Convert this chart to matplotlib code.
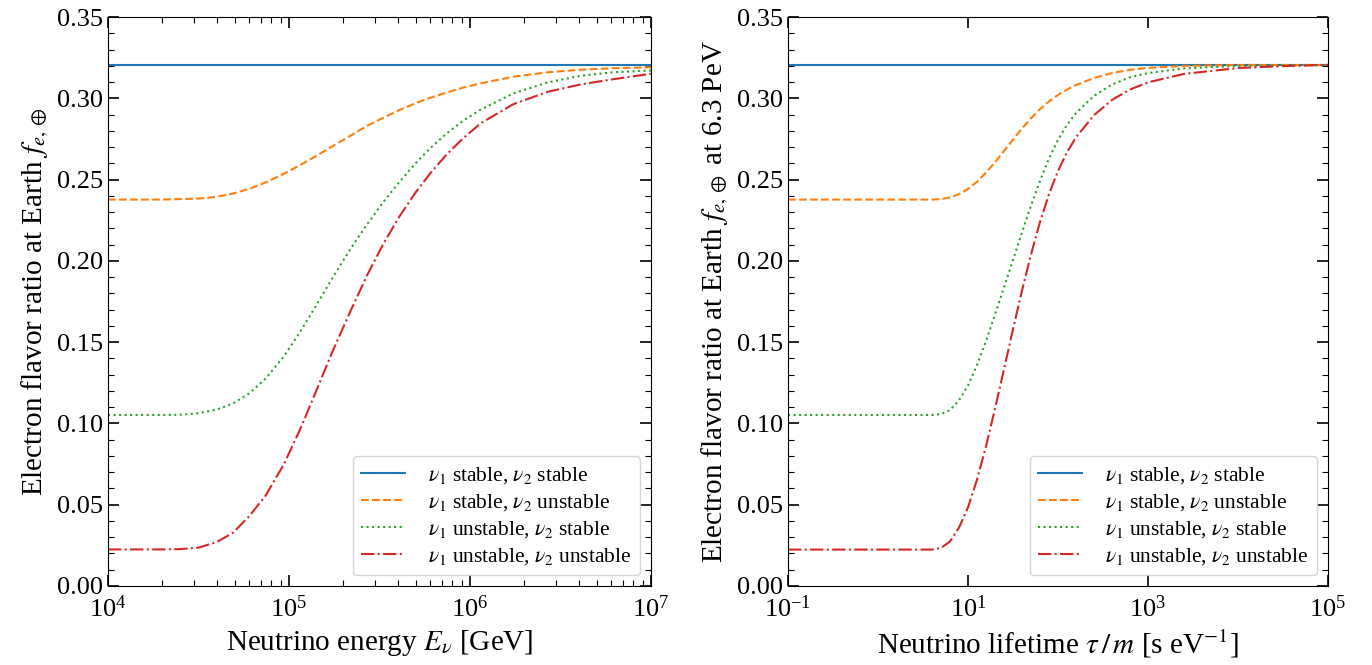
import numpy as np
import matplotlib
matplotlib.use("Agg")
import matplotlib.pyplot as plt
from matplotlib.ticker import LogLocator, NullLocator, MultipleLocator

plt.rcParams["font.family"] = ["Liberation Serif", "DejaVu Serif"]
plt.rcParams["mathtext.fontset"] = "stix"

# --- left panel: f_e at Earth vs neutrino energy (log10 E / GeV) ---
E_blue = [4.0, 7.0]
fe_blue = [0.3205, 0.3205]

E_orange = [4.0, 4.3, 4.5, 4.6, 4.69, 4.78, 4.87, 4.97, 5.06, 5.15, 5.24, 5.34, 5.43,
            5.52, 5.61, 5.70, 5.78, 5.87, 5.96, 6.06, 6.24, 6.43, 6.61, 6.79, 7.0]
fe_orange = [0.2377, 0.2377, 0.2383, 0.2394, 0.2414, 0.2443, 0.2482, 0.2535, 0.2588,
             0.2645, 0.2705, 0.2770, 0.2830, 0.2880, 0.2928, 0.2970, 0.3003, 0.3035,
             0.3065, 0.3092, 0.3133, 0.3160, 0.3176, 0.3185, 0.3191]

E_green = [4.0, 4.3, 4.41, 4.5, 4.6, 4.69, 4.78, 4.87, 4.97, 5.06, 5.15, 5.24, 5.34,
           5.43, 5.52, 5.61, 5.70, 5.78, 5.87, 5.96, 6.06, 6.24, 6.43, 6.61, 6.79, 7.0]
fe_green = [0.1052, 0.1052, 0.1054, 0.1063, 0.1085, 0.1122, 0.1185, 0.1275, 0.1410,
            0.1560, 0.1725, 0.1895, 0.2074, 0.2223, 0.2360, 0.2486, 0.2601, 0.2693,
            0.2783, 0.2860, 0.2931, 0.3030, 0.3098, 0.3138, 0.3160, 0.3171]

E_red = [4.0, 4.3, 4.4, 4.5, 4.6, 4.69, 4.78, 4.87, 4.97, 5.06, 5.15, 5.24, 5.34, 5.43,
         5.52, 5.61, 5.70, 5.78, 5.87, 5.96, 6.06, 6.24, 6.43, 6.61, 6.79, 7.0]
fe_red = [0.0225, 0.0225, 0.0227, 0.0236, 0.0270, 0.0327, 0.0429, 0.0555, 0.0745,
          0.0960, 0.1199, 0.1442, 0.1692, 0.1908, 0.2102, 0.2273, 0.2422, 0.2538,
          0.2653, 0.2752, 0.2847, 0.2964, 0.3040, 0.3085, 0.3117, 0.3151]

# --- right panel: f_e at 6.3 PeV vs lifetime (log10 tau/m / s eV^-1) ---
T_blue = [-1.0, 5.0]
ft_blue = [0.3205, 0.3205]

T_orange = [-1.0, 0.6, 0.7, 0.8, 0.9, 1.0, 1.1, 1.2, 1.3, 1.4, 1.5, 1.6, 1.7, 1.8,
            1.9, 2.0, 2.1, 2.2, 2.4, 2.6, 2.8, 3.0, 3.4, 4.0, 5.0]
ft_orange = [0.2377, 0.2377, 0.2380, 0.2390, 0.2410, 0.2442, 0.2487, 0.2543, 0.2607,
             0.2676, 0.2746, 0.2814, 0.2877, 0.2933, 0.2981, 0.3021, 0.3054, 0.3081,
             0.3125, 0.3155, 0.3175, 0.3187, 0.3199, 0.3205, 0.3205]

T_green = [-1.0, 0.6, 0.7, 0.8, 0.9, 1.0, 1.1, 1.2, 1.3, 1.4, 1.5, 1.6, 1.7, 1.8,
           1.9, 2.0, 2.1, 2.2, 2.4, 2.6, 2.8, 3.0, 3.4, 4.0, 5.0]
ft_green = [0.1052, 0.1052, 0.1057, 0.1082, 0.1142, 0.1234, 0.1359, 0.1507, 0.1669,
            0.1837, 0.2005, 0.2175, 0.2340, 0.2492, 0.2630, 0.2745, 0.2837, 0.2909,
            0.3015, 0.3085, 0.3129, 0.3155, 0.3184, 0.3199, 0.3205]

T_red = [-1.0, 0.6, 0.7, 0.8, 0.9, 1.0, 1.1, 1.2, 1.3, 1.4, 1.5, 1.6, 1.7, 1.8, 1.9,
         2.0, 2.1, 2.2, 2.4, 2.6, 2.8, 3.0, 3.4, 4.0, 4.5, 5.0]
ft_red = [0.0224, 0.0224, 0.0234, 0.0274, 0.0359, 0.0484, 0.0654, 0.0859, 0.1091,
          0.1334, 0.1579, 0.1817, 0.2039, 0.2239, 0.2411, 0.2553, 0.2668, 0.2760,
          0.2896, 0.2990, 0.3054, 0.3098, 0.3150, 0.3186, 0.3198, 0.3205]

labels = [r"$\nu_1$ stable, $\nu_2$ stable",
          r"$\nu_1$ stable, $\nu_2$ unstable",
          r"$\nu_1$ unstable, $\nu_2$ stable",
          r"$\nu_1$ unstable, $\nu_2$ unstable"]
colors = ["#1f77b4", "#ff7f0e", "#2ca02c", "#d62728"]
styles = ["-", "--", ":", "-."]

fig = plt.figure(figsize=(13.72, 6.65), dpi=100)
ax1 = fig.add_axes([108/1372, 1-586/665, (651-108)/1372, (586-17)/665])
ax2 = fig.add_axes([788/1372, 1-586/665, (1328-788)/1372, (586-17)/665])

left = [(E_blue, fe_blue), (E_orange, fe_orange), (E_green, fe_green), (E_red, fe_red)]
right = [(T_blue, ft_blue), (T_orange, ft_orange), (T_green, ft_green), (T_red, ft_red)]

for (x, y), c, ls, lab in zip(left, colors, styles, labels):
    ax1.plot(10**np.array(x), y, color=c, ls=ls, lw=1.5, label=lab)
for (x, y), c, ls, lab in zip(right, colors, styles, labels):
    ax2.plot(10**np.array(x), y, color=c, ls=ls, lw=1.5, label=lab)

for ax in (ax1, ax2):
    ax.set_xscale("log")
    ax.set_ylim(0, 0.35)
    ax.yaxis.set_major_locator(MultipleLocator(0.05))
    ax.yaxis.set_minor_locator(MultipleLocator(0.01))
    ax.tick_params(which="both", direction="in", top=True, right=True,
                   labelsize=19)
    ax.tick_params(which="major", length=8, width=1.2)
    ax.tick_params(which="minor", length=4, width=0.8)
    ax.tick_params(axis="x", which="major", pad=7)
    ax.legend(loc="lower right", fontsize=15.5, labelspacing=0.28,
              handletextpad=1.1)
    ax.set_yticks(np.arange(0, 0.351, 0.05))
    ax.set_yticklabels([f"{v:.2f}" for v in np.arange(0, 0.351, 0.05)])

ax1.set_xlim(1e4, 1e7)
ax1.xaxis.set_major_locator(LogLocator(base=10, numticks=10))
ax1.xaxis.set_minor_locator(LogLocator(base=10, subs=np.arange(2, 10), numticks=20))
ax1.set_xlabel(r"Neutrino energy $E_\nu$ [GeV]", fontsize=21)
ax1.set_ylabel(r"Electron flavor ratio at Earth $f_{e,\oplus}$", fontsize=21)

ax2.set_xlim(1e-1, 1e5)
ax2.set_xticks([1e-1, 1e1, 1e3, 1e5])
ax2.xaxis.set_minor_locator(NullLocator())
ax2.set_xlabel(r"Neutrino lifetime $\tau\,/\,m$ [s eV$^{-1}$]", fontsize=21)
ax2.set_ylabel(r"Electron flavor ratio at Earth $f_{e,\oplus}$ at 6.3 PeV", fontsize=21)

fig.savefig("out.png", dpi=100)
